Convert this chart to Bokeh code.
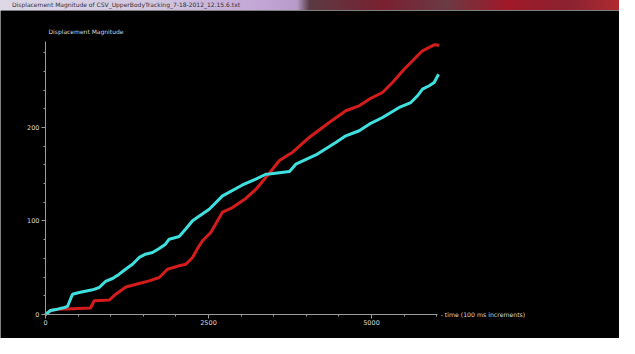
from bokeh.plotting import figure
from bokeh.models import FixedTicker, Label, Range1d, Div
from bokeh.layouts import column
from bokeh.embed import file_html
from bokeh.resources import INLINE

window_title = "Displacement Magnitude of CSV_UpperBodyTracking_7-18-2012_12.15.6.txt"
chart_title = "Displacement Magnitude"
x_label = "time (100 ms increments)"

x_ticks = [0, 2500, 5000]
y_ticks = [0, 100, 200]
x_axis_end = 6012
y_axis_end = 292

cyan_x = [0, 77, 184, 291, 337, 414, 517, 721, 824, 920, 1028, 1130, 1227, 1334, 1437,
          1534, 1641, 1744, 1840, 1897, 2051, 2147, 2255, 2511, 2715, 3021, 3225, 3379,
          3431, 3742, 3839, 4146, 4452, 4606, 4811, 4965, 5169, 5425, 5603, 5705, 5782,
          5885, 5961, 6028]
cyan_y = [0, 4.3, 5.7, 7.5, 8.6, 21.7, 23.5, 26.4, 28.9, 35.3, 38.5, 43.1, 48.4, 53.8, 61.0,
          64.5, 66.3, 70.6, 75.2, 80.5, 83.4, 91.2, 100.2, 112.6, 126.9, 138.5, 144.7, 150.0,
          150.3, 152.9, 160.7, 170.6, 184.0, 191.1, 196.5, 203.5, 210.7, 221.4, 226.7, 233.9,
          241.0, 244.6, 248.1, 257.0]

red_x = [0, 77, 184, 307, 690, 747, 977, 1078, 1232, 1437, 1590, 1744, 1871, 2051, 2152,
         2255, 2357, 2408, 2535, 2715, 2868, 3072, 3225, 3379, 3482, 3584, 3738, 3788, 4044,
         4351, 4606, 4811, 4965, 5169, 5322, 5501, 5679, 5782, 5885, 5961, 6038]
red_y = [0, 4.3, 5.7, 5.9, 7.0, 14.7, 15.5, 21.7, 29.4, 33.2, 36.0, 39.6, 48.4, 52.1, 53.8,
         61.0, 73.5, 78.8, 87.7, 109.6, 114.4, 124.1, 133.7, 146.5, 155.4, 164.4, 171.4, 173.3,
         189.3, 205.3, 217.9, 223.2, 230.3, 237.4, 248.1, 262.3, 274.9, 282.0, 285.6, 288.4, 288.0]

FONT = "DejaVu Sans"
AXIS_COLOR = "#9a9a9a"
TEXT_COLOR = "#d8d8d8"

bar = Div(
    text=window_title,
    width=619, height=10,
    styles={
        "background": "linear-gradient(to right, #dcd8e6 0%, #d2c8e0 25%, #c2a6d6 42%, #b89ac8 48%, #5a3a44 50%, #7a2030 62%, #6a3a44 72%, #a01828 82%, #8a2230 92%, #b02a30 100%)",
        "font-size": "6px", "line-height": "10px", "color": "#303040",
        "font-family": "DejaVu Sans", "padding-left": "12px", "overflow": "hidden",
        "white-space": "nowrap", "width": "619px", "box-sizing": "border-box",
    },
    margin=(0, 0, 0, 0),
)

p = figure(width=619, height=328, output_backend="svg", toolbar_location=None,
           x_range=Range1d(-690.2, 8803.4), y_range=Range1d(-25.67, 325.1),
           min_border=0,
           background_fill_color="black", border_fill_color="black")
p.outline_line_color = None
p.grid.visible = False

p.line(red_x, red_y, line_color="#d41c1c", line_width=3)
p.line(cyan_x, cyan_y, line_color="#3fe0e0", line_width=3)

for ax in (p.xaxis[0], p.yaxis[0]):
    ax.fixed_location = 0
    ax.axis_line_color = AXIS_COLOR
    ax.major_tick_line_color = AXIS_COLOR
    ax.minor_tick_line_color = AXIS_COLOR
    ax.major_tick_out = 4
    ax.major_tick_in = 0
    ax.minor_tick_out = 2
    ax.minor_tick_in = 0
    ax.major_label_text_color = TEXT_COLOR
    ax.major_label_text_font = FONT
    ax.major_label_text_font_size = "6.5px"
    ax.major_label_standoff = 2

p.xaxis[0].bounds = (0, x_axis_end)
p.yaxis[0].bounds = (0, y_axis_end)
p.xaxis[0].ticker = FixedTicker(ticks=x_ticks, minor_ticks=list(range(0, 6001, 500)))
p.yaxis[0].ticker = FixedTicker(ticks=y_ticks, minor_ticks=list(range(0, 281, 20)))

p.add_layout(Label(x=6060, y=0, text="- " + x_label, text_color=TEXT_COLOR,
                   text_font=FONT, text_font_size="6.2px", text_baseline="middle"))
p.add_layout(Label(x=46, y=303, text=chart_title, text_color=TEXT_COLOR,
                   text_font=FONT, text_font_size="6px", text_baseline="middle"))

layout = column(bar, p, spacing=0)
open("out.html", "w").write(file_html(layout, INLINE))
